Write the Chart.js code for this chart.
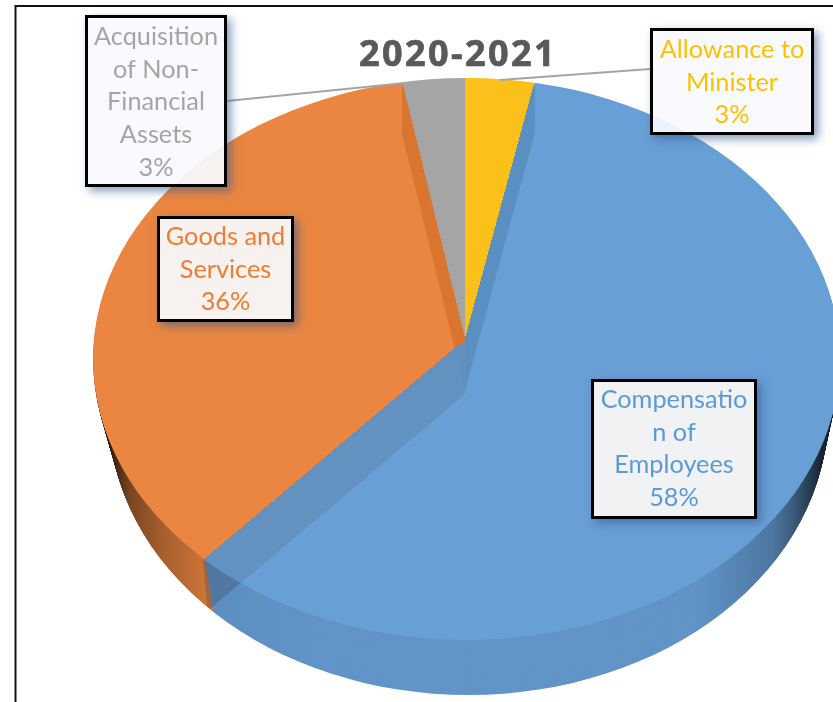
<!DOCTYPE html>
<html>
<head>
<meta charset="utf-8">
<style>
    html, body { margin: 0; padding: 0; background: #fff; overflow: hidden; }
    canvas { display: block; }
</style>
<script src="https://cdn.jsdelivr.net/npm/chart.js@4"></script>
</head>
<body>
<canvas id="budgetPie" width="833" height="702"></canvas>
<script>
// Budget split 2020-2021, tilted pie with see-through blue slice

const chartTitle = '2020-2021';
const sliceNames = ['Allowance to Minister', 'Compensation of Employees', 'Goods and Services', 'Acquisition of Non-Financial Assets'];
const sliceValues = [3.2, 58.4, 35.5, 2.9];
const sliceColors = ['#FBC11A', '#689FD6', '#EA8641', '#A5A5A5'];
const labelColors = ['#FFC000', '#5B9BD5', '#ED7D31', '#A5A5A5'];
const labelLines = [
    ['Allowance to', 'Minister'],
    ['Compensatio', 'n of', 'Employees'],
    ['Goods and', 'Services'],
    ['Acquisition', 'of Non-', 'Financial', 'Assets']
];

// where the pie and the label boxes sit
const pie = { cx: 466.5, cy: 359, rx: 373.5, ry: 281, apexX: 465, apexY: 340, depth: 55, lean: 0.11, shrink: 14, reach: 440 };
const labelBoxes = [
    { x: 650, y: 28, w: 164, h: 107, base: 58, fill: 'rgba(248,250,254,0.93)' },
    { x: 591, y: 379, w: 166, h: 140, base: 408, fill: '#F1F2F4' },
    { x: 157, y: 216, w: 137, h: 106, base: 245, fill: 'rgba(248,250,254,0.93)' },
    { x: 85, y: 15, w: 142, h: 172, base: 45, fill: 'rgba(248,250,254,0.93)' }
];
const leaders = [[[650, 69], [500, 80]], null, null, [[227, 101], [405, 83]]];

// the far face of the pie is a little narrower than the top one
function ellipseClip(ctx, d) {
    const t = d / pie.depth;
    ctx.beginPath();
    ctx.ellipse(pie.cx + t * 2, pie.cy + d, pie.rx - t * pie.shrink, pie.ry, 0, 0, Math.PI * 2);
    ctx.clip();
}

// map the round chart.js arcs on to the flattened pie
function placeArcs(ctx, arc, dx, dy) {
    const s = pie.reach / arc.outerRadius;
    ctx.translate(pie.apexX + dx, pie.apexY + dy);
    ctx.scale(s, s * pie.ry / pie.rx);
    ctx.translate(-arc.x, -arc.y);
}

function paintArc(ctx, arc, color) {
    const keep = arc.options;
    arc.options = Object.assign({}, keep, { backgroundColor: color });
    arc.draw(ctx);
    arc.options = keep;
}

// a slice pushed down through the pie leaves its inner wall behind
function sweepArc(ctx, arc, color, depth) {
    for (let d = 1; d <= depth; d++) {
        ctx.save();
        ellipseClip(ctx, d);
        placeArcs(ctx, arc, 0, d);
        paintArc(ctx, arc, color);
        ctx.restore();
    }
}

function clipToSlice(ctx, arc) {
    ctx.save();
    placeArcs(ctx, arc, 0, 0);
    ctx.beginPath();
    ctx.moveTo(arc.x, arc.y);
    ctx.arc(arc.x, arc.y, arc.outerRadius, arc.startAngle, arc.endAngle);
    ctx.closePath();
    ctx.restore();
    ctx.clip();
}

const tiltedPie = {
    id: 'tiltedPie',
    beforeDatasetsDraw(chart) {
        const ctx = chart.ctx;
        const arcs = chart.getDatasetMeta(0).data;
        const [yellow, blue, orange, gray] = arcs;

        // side wall
        for (let d = pie.depth; d > 0; d--) {
            ctx.save();
            ellipseClip(ctx, d);
            placeArcs(ctx, yellow, d * pie.lean, d);
            arcs.forEach(a => a.draw(ctx));
            ctx.restore();
        }
        ctx.save();
        ctx.globalCompositeOperation = 'source-atop';
        const shade = ctx.createLinearGradient(93, 0, 840, 0);
        [[0.01, 0.9], [0.027, 0.75], [0.05, 0.48], [0.09, 0.3], [0.143, 0.15], [0.157, 0.1], [0.3, 0.07], [0.81, 0.07], [0.91, 0.25], [0.937, 0.42], [0.973, 0.75], [1, 0.9]]
            .forEach(st => shade.addColorStop(st[0], 'rgba(0,0,0,' + st[1] + ')'));
        ctx.fillStyle = shade;
        ctx.fillRect(0, 0, 833, 702);
        ctx.restore();

        // inner wall seen through the blue side
        ctx.save();
        ctx.beginPath();
        ctx.moveTo(202, 550);
        ctx.lineTo(208, 614);
        ctx.lineTo(420, 614);
        ctx.lineTo(420, 550);
        ctx.closePath();
        ctx.clip();
        ellipseClip(ctx, pie.depth);
        placeArcs(ctx, yellow, 0, 54);
        paintArc(ctx, orange, 'rgba(50,70,95,0.3)');
        ctx.restore();

        // top faces
        ctx.save();
        ellipseClip(ctx, 0);
        ctx.save();
        placeArcs(ctx, yellow, 0, 0);
        arcs.forEach(a => a.draw(ctx));
        ctx.restore();

        // inner walls seen through the top of the blue slice
        ctx.save();
        clipToSlice(ctx, blue);
        sweepArc(ctx, yellow, '#5A90C1', 50);
        sweepArc(ctx, gray, '#5F91C0', 50);
        sweepArc(ctx, orange, '#6391C0', 54);
        ctx.restore();

        ctx.save();
        clipToSlice(ctx, orange);
        sweepArc(ctx, gray, '#D9752F', 50);
        ctx.restore();
        ctx.restore();

        return false;
    },
    afterDraw(chart) {
        const ctx = chart.ctx;

        // frame, only left and top are in the picture
        ctx.save();
        ctx.strokeStyle = '#111';
        ctx.lineWidth = 2;
        ctx.beginPath();
        ctx.moveTo(15.5, 702);
        ctx.lineTo(15.5, 6);
        ctx.lineTo(833, 6);
        ctx.stroke();

        ctx.save();
        ctx.fillStyle = '#595959';
        ctx.strokeStyle = '#595959';
        ctx.lineWidth = 0.7;
        ctx.font = 'bold 36px "Open Sans"';
        ctx.letterSpacing = '2.4px';
        ctx.textAlign = 'center';
        ctx.fillText(chartTitle, 458, 66);
        ctx.strokeText(chartTitle, 458, 66);
        ctx.restore();

        ctx.strokeStyle = '#A5A5A5';
        ctx.lineWidth = 2;
        leaders.forEach(l => {
            if (!l) return;
            ctx.beginPath();
            ctx.moveTo(l[0][0], l[0][1]);
            ctx.lineTo(l[1][0], l[1][1]);
            ctx.stroke();
        });

        // label boxes
        sliceValues.forEach((v, i) => {
            const b = labelBoxes[i];
            ctx.save();
            ctx.beginPath();
            ctx.rect(0, 0, 833, 702);
            ctx.rect(b.x, b.y, b.w, b.h);
            ctx.clip('evenodd');
            ctx.shadowColor = 'rgba(50,90,140,0.6)';
            ctx.shadowBlur = 9;
            ctx.shadowOffsetX = 4;
            ctx.shadowOffsetY = 4;
            ctx.fillStyle = '#000';
            ctx.fillRect(b.x, b.y, b.w, b.h);
            ctx.restore();

            ctx.fillStyle = b.fill;
            ctx.fillRect(b.x, b.y, b.w, b.h);
            ctx.strokeStyle = '#000';
            ctx.lineWidth = 3;
            ctx.strokeRect(b.x + 1.5, b.y + 1.5, b.w - 3, b.h - 3);

            ctx.fillStyle = labelColors[i];
            ctx.font = '25.3px Lato';
            ctx.textAlign = 'center';
            labelLines[i].concat(Math.round(v) + '%').forEach((line, n) => {
                ctx.fillText(line, b.x + b.w / 2, b.base + n * 32.7);
            });
        });
        ctx.restore();
    }
};

new Chart(document.getElementById('budgetPie'), {
    type: 'pie',
    data: {
        labels: sliceNames,
        datasets: [{ data: sliceValues, backgroundColor: sliceColors, borderWidth: 0 }]
    },
    options: {
        responsive: false,
        animation: false,
        events: [],
        plugins: { legend: { display: false }, tooltip: { enabled: false } }
    },
    plugins: [tiltedPie]
});
</script>
</body>
</html>
